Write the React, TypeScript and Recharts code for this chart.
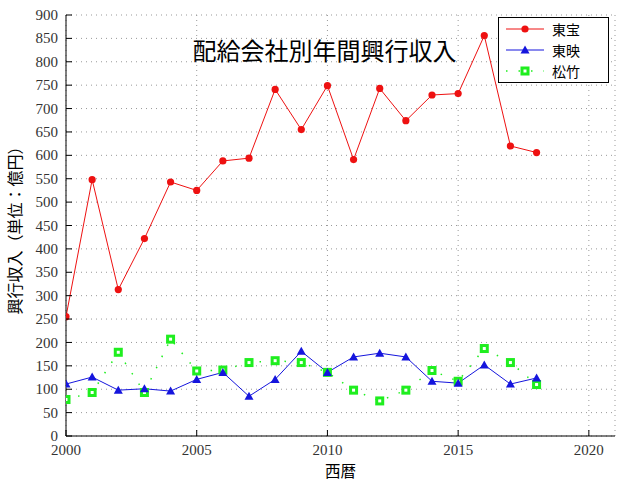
import React from 'react';
import { LineChart, Line, XAxis, YAxis, CartesianGrid, Legend, Label } from 'recharts';

const years = [2000, 2001, 2002, 2003, 2004, 2005, 2006, 2007, 2008, 2009, 2010, 2011, 2012, 2013, 2014, 2015, 2016, 2017, 2018];
const toho = [255, 548, 313, 422, 543, 525, 588, 594, 741, 655, 749, 591, 743, 674, 729, 732, 856, 620, 606];
const toei = [111, 126, 98, 101, 96, 121, 136, 85, 121, 181, 136, 169, 177, 169, 117, 113, 152, 111, 124];
const shochiku = [78, 93, 179, 93, 207, 139, 141, 157, 161, 157, 136, 98, 75, 98, 140, 117, 187, 157, 110];

const xTicks = [2000, 2005, 2010, 2015, 2020];
const yTicks = [0, 50, 100, 150, 200, 250, 300, 350, 400, 450, 500, 550, 600, 650, 700, 750, 800, 850, 900];

const seriesNames = ['東宝', '東映', '松竹'];
const title = '配給会社別年間興行収入';
const xLabel = '西暦';
const yLabel = '興行収入（単位：億円）';

const rows = years.map((y, i) => ({ year: y, toho: toho[i], toei: toei[i], shochiku: shochiku[i] }));

const RED = '#ee1111';
const BLUE = '#1515dd';
const GREEN = '#1fee1f';
const TICK_FONT = "'Liberation Serif', serif";
const CJK_FONT = "'Noto Sans CJK JP', sans-serif";
const TICK_COLOR = '#333';
const TL = 6;

const XTick = (p: any) => (
  <g>
    <line x1={p.x} x2={p.x} y1={p.y - 9} y2={p.y - 9 - TL} stroke="#000" />
    <text x={p.x} y={p.y} dy="0.68em" textAnchor="middle" fontFamily={TICK_FONT} fontSize={15} fill={TICK_COLOR}>
      {p.payload.value}
    </text>
  </g>
);
const YTick = (p: any) => (
  <g>
    <line x1={p.x + 8} x2={p.x + 8 + TL} y1={p.y} y2={p.y} stroke="#000" />
    <text x={p.x} y={p.y} dy="0.34em" textAnchor="end" fontFamily={TICK_FONT} fontSize={15} fill={TICK_COLOR}>
      {p.payload.value}
    </text>
  </g>
);
const TopTick = (p: any) => (
  <line x1={p.x} x2={p.x} y1={p.y} y2={p.y + TL} stroke="#000" />
);
const RightTick = (p: any) => (
  <line x1={p.x} x2={p.x - TL} y1={p.y} y2={p.y} stroke="#000" />
);

const YLabelContent = (p: any) => {
  const vb = p.viewBox || { x: 0, y: 15, width: 66, height: 421 };
  const cx = vb.x + 14;
  const cy = vb.y + vb.height / 2 + 1;
  return (
    <text x={cx} y={cy} textAnchor="middle" dominantBaseline="central" transform={`rotate(-90 ${cx} ${cy})`} fontFamily={CJK_FONT} fontSize={16} fill="#000">
      {yLabel}
    </text>
  );
};
const XLabelContent = (p: any) => {
  const vb = p.viewBox || { x: 66, y: 436, width: 549, height: 44 };
  const cx = vb.x + vb.width / 2;
  return (
    <text x={cx} y={vb.y + 34} textAnchor="middle" dominantBaseline="central" fontFamily={CJK_FONT} fontSize={15.5} fill="#000">
      {xLabel}
    </text>
  );
};

const Tri = (p: any) => {
  const { cx, cy, index } = p;
  if (cx == null || cy == null) return <g key={index} />;
  return <polygon key={index} points={`${cx},${cy - 4.5} ${cx - 4.5},${cy + 3.5} ${cx + 4.5},${cy + 3.5}`} fill={BLUE} />;
};
const Sq = (p: any) => {
  const { cx, cy, index } = p;
  if (cx == null || cy == null) return <g key={index} />;
  return (
    <g key={index}>
      <rect x={cx - 4.5} y={cy - 4.5} width={9} height={9} fill={GREEN} />
      <rect x={cx - 1.5} y={cy - 1.5} width={3} height={3} fill="#fff" />
    </g>
  );
};

const LegendBox = () => {
  const items = [0, 1, 2];
  return (
    <svg width={111} height={66} style={{ display: 'block' }}>
      <rect x={0.5} y={0.5} width={110} height={65} fill="#fff" stroke="#000" />
      {items.map((i) => {
        const y = 12 + i * 21;
        return (
          <g key={i}>
            {i === 0 && (
              <g>
                <line x1={8} x2={46} y1={y} y2={y} stroke={RED} />
                <circle cx={27} cy={y} r={3.6} fill={RED} />
              </g>
            )}
            {i === 1 && (
              <g>
                <line x1={8} x2={46} y1={y} y2={y} stroke={BLUE} />
                <polygon points={`27,${y - 4.5} 22.5,${y + 3.5} 31.5,${y + 3.5}`} fill={BLUE} />
              </g>
            )}
            {i === 2 && (
              <g>
                <line x1={8} x2={46} y1={y} y2={y} stroke={GREEN} strokeWidth={1.5} strokeDasharray="1.5 11" />
                <rect x={22.5} y={y - 4.5} width={9} height={9} fill={GREEN} />
                <rect x={25.5} y={y - 1.5} width={3} height={3} fill="#fff" />
              </g>
            )}
            <text x={54} y={y} dominantBaseline="central" fontFamily={CJK_FONT} fontSize={14} fill="#000">
              {seriesNames[i]}
            </text>
          </g>
        );
      })}
    </svg>
  );
};

export default function App() {
  return (
    <div style={{ position: 'absolute', left: 0, top: 0, width: 640, height: 480, background: '#fff' }}>
      <LineChart width={640} height={480} data={rows} margin={{ top: 15, right: 25, bottom: 0, left: 0 }}>
        <CartesianGrid stroke="#999" strokeDasharray="1 4" />
        <XAxis dataKey="year" type="number" domain={[2000, 2021]} allowDataOverflow ticks={xTicks} height={44}
          stroke="#000" tickLine={false} tickSize={0} tickMargin={9} tick={<XTick />} interval={0}>
          <Label content={<XLabelContent />} />
        </XAxis>
        <XAxis xAxisId="top" orientation="top" type="number" domain={[2000, 2021]} allowDataOverflow ticks={xTicks} height={0}
          stroke="#000" tickLine={false} tickSize={0} tickMargin={0} tick={<TopTick />} interval={0} />
        <YAxis type="number" domain={[0, 900]} allowDataOverflow ticks={yTicks} width={66} stroke="#000"
          tickLine={false} tickSize={0} tickMargin={8} tick={<YTick />} interval={0}>
          <Label content={<YLabelContent />} />
        </YAxis>
        <YAxis yAxisId="right" orientation="right" type="number" domain={[0, 900]} allowDataOverflow ticks={yTicks} width={0}
          stroke="#000" tickLine={false} tickSize={0} tickMargin={0} tick={<RightTick />} interval={0} />
        <Legend layout="vertical" align="center" verticalAlign="middle" content={<LegendBox />}
          wrapperStyle={{ position: 'absolute', left: 498, top: 17, width: 111, height: 66 }} />
        <Line dataKey="shochiku" stroke={GREEN} strokeWidth={1.5} strokeDasharray="1.5 11" dot={Sq} isAnimationActive={false} />
        <Line dataKey="toei" stroke={BLUE} strokeWidth={1} dot={Tri} isAnimationActive={false} />
        <Line dataKey="toho" stroke={RED} strokeWidth={1} dot={{ r: 3.6, fill: RED, stroke: RED, strokeWidth: 0 }} isAnimationActive={false} />
      </LineChart>
      <div style={{ position: 'absolute', left: 0, top: 38, width: 649, textAlign: 'center', fontFamily: CJK_FONT, fontSize: 24, lineHeight: '24px', color: '#000', pointerEvents: 'none' }}>
        {title}
      </div>
    </div>
  );
}
